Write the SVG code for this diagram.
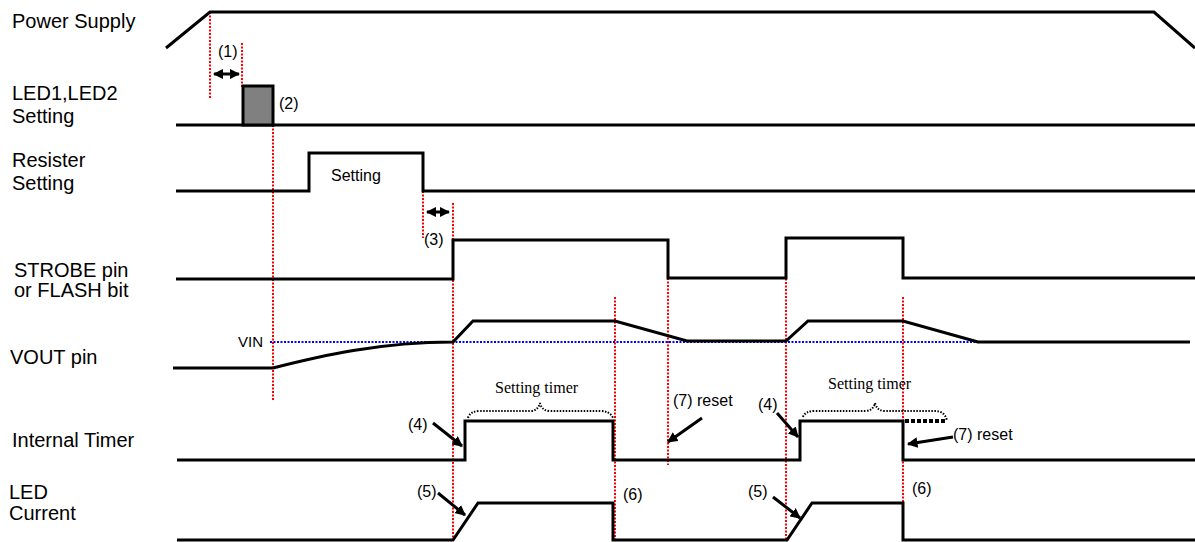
<svg xmlns="http://www.w3.org/2000/svg" width="1195" height="542" viewBox="0 0 1195 542">
<defs>
<style>
.sig{fill:none;stroke:#000;stroke-width:3;stroke-linejoin:miter}
.red{stroke:#ff0000;stroke-width:2;stroke-dasharray:2 1.5;fill:none}
.blue{stroke:#0000ff;stroke-width:2;stroke-dasharray:2 1.5;fill:none}
.arr{stroke:#000;stroke-width:3;fill:none}
.brace{fill:none;stroke:#000;stroke-width:2;stroke-dasharray:1.5 1.5}
.lbl{font-family:"Liberation Sans",Arial,sans-serif;font-size:20px;fill:#000}
.sm{font-family:"Liberation Sans",Arial,sans-serif;font-size:16px;fill:#000}
.ser{font-family:"Liberation Serif","Times New Roman",serif;font-size:16px;fill:#000}
</style>
<marker id="ah" viewBox="0 0 10 10" refX="9" refY="5" markerWidth="3.5" markerHeight="3.5" orient="auto" markerUnits="strokeWidth">
<path d="M0,0 L10,5 L0,10 z" fill="#000"/>
</marker>
<marker id="ahs" viewBox="0 0 10 10" refX="1" refY="5" markerWidth="3.5" markerHeight="3.5" orient="auto" markerUnits="strokeWidth">
<path d="M10,0 L0,5 L10,10 z" fill="#000"/>
</marker>
</defs>
<rect width="1195" height="542" fill="#fff"/>

<g id="guides">
<line class="red" x1="210" y1="12" x2="210" y2="98"/>
<line class="red" x1="242" y1="43" x2="242" y2="88"/>
<line class="red" x1="273" y1="125" x2="273" y2="400"/>
<line class="red" x1="423" y1="191" x2="423" y2="238"/>
<line class="red" x1="453" y1="203" x2="453" y2="540"/>
<line class="red" x1="615" y1="297" x2="615" y2="540"/>
<line class="red" x1="668" y1="278" x2="668" y2="465"/>
<line class="red" x1="786" y1="268" x2="786" y2="540"/>
<line class="red" x1="903" y1="297" x2="903" y2="540"/>
<line class="blue" x1="270" y1="342" x2="978" y2="342"/>
</g>

<g id="power-supply">
<text class="lbl" x="12" y="28">Power Supply</text>
<polyline class="sig" points="166,48 210,12 1154,12 1195,48"/>
</g>

<g id="led-setting">
<text class="lbl" x="12" y="100">LED1,LED2</text>
<text class="lbl" x="12" y="123">Setting</text>
<line class="sig" x1="176" y1="125" x2="1195" y2="125"/>
<rect x="243" y="86" width="30" height="39" fill="#808080" stroke="#000" stroke-width="3"/>
<text class="sm" x="279" y="109">(2)</text>
</g>

<g id="resister-setting">
<text class="lbl" x="12" y="167">Resister</text>
<text class="lbl" x="12" y="190">Setting</text>
<polyline class="sig" points="176,191 309,191 309,153 423,153 423,191 1195,191"/>
<text x="331" y="181" style="font-family:'Liberation Sans',Arial,sans-serif;font-size:16px">Setting</text>
</g>

<g id="strobe">
<text class="lbl" x="14" y="277">STROBE pin</text>
<text class="lbl" x="14" y="297">or FLASH bit</text>
<polyline class="sig" points="176,279 453,279 453,240 668,240 668,278 786,278 786,238 903,238 903,278 1195,278"/>
</g>

<g id="vout">
<text class="lbl" x="10" y="364">VOUT pin</text>
<text x="238" y="347" style="font-family:'Liberation Sans',Arial,sans-serif;font-size:15px">VIN</text>
<path class="sig" d="M173,368 L273,368 C320,356 380,342 453,342 L473,321 L615,321 L687,341 L786,341 L808,321 L903,321 L978,342 L1190,342"/>
</g>

<g id="internal-timer">
<text class="lbl" x="12" y="447">Internal Timer</text>
<polyline class="sig" points="177,460 465,460 465,421 613,421 613,460 800,460 800,421 903,421 903,460 1195,460"/>
<text class="ser" x="495" y="393">Setting timer</text>
<path class="brace" d="M468,418 Q470,411 480,411 L530,411 Q538,411 540,403 Q542,411 550,411 L600,411 Q610,411 613,418"/>
<text class="ser" x="828" y="389">Setting timer</text>
<path class="brace" d="M803,417 Q805,411 815,411 L865,411 Q873,411 875,403 Q877,411 885,411 L935,411 Q945,411 947,421"/>
<line x1="905" y1="421" x2="945" y2="421" stroke="#000" stroke-width="4" stroke-dasharray="4 2"/>
</g>

<g id="led-current">
<text class="lbl" x="9" y="499">LED</text>
<text class="lbl" x="9" y="520">Current</text>
<polyline class="sig" points="177,540 453,540 478,503 613,503 613,540 787,540 812,503 903,503 903,540 1195,540"/>
</g>

<g id="connectors">
<line class="arr" x1="214" y1="74" x2="239" y2="74" marker-start="url(#ahs)" marker-end="url(#ah)"/>
<line class="arr" x1="427" y1="212" x2="449" y2="212" marker-start="url(#ahs)" marker-end="url(#ah)"/>
<line class="arr" x1="433" y1="423" x2="462" y2="446" marker-end="url(#ah)"/>
<line class="arr" x1="702" y1="418" x2="668" y2="442" marker-end="url(#ah)"/>
<line class="arr" x1="438" y1="493" x2="465" y2="515" marker-end="url(#ah)"/>
<line class="arr" x1="777" y1="413" x2="798" y2="437" marker-end="url(#ah)"/>
<line class="arr" x1="953" y1="437" x2="908" y2="444" marker-end="url(#ah)"/>
<line class="arr" x1="773" y1="497" x2="800" y2="518" marker-end="url(#ah)"/>
</g>

<g id="annotations">
<text class="sm" x="218" y="57">(1)</text>
<text class="sm" x="424" y="245">(3)</text>
<text class="sm" x="408" y="430">(4)</text>
<text class="sm" x="417" y="497">(5)</text>
<text class="sm" x="623" y="500">(6)</text>
<text class="sm" x="673" y="406">(7) reset</text>
<text class="sm" x="758" y="410">(4)</text>
<text class="sm" x="748" y="497">(5)</text>
<text class="sm" x="912" y="494">(6)</text>
<text class="sm" x="953" y="440">(7) reset</text>
</g>
</svg>
